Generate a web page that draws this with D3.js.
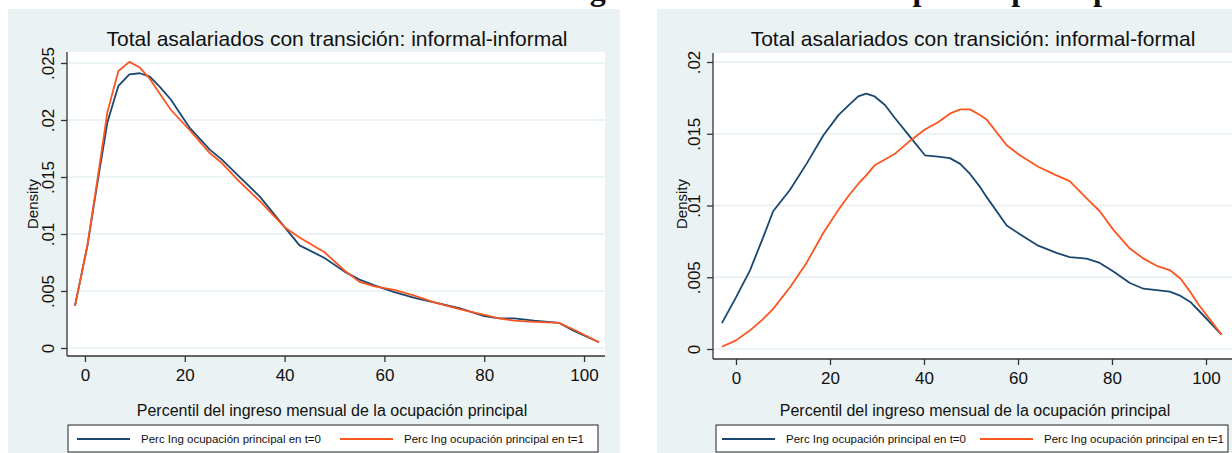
<!DOCTYPE html>
<html>
<head>
<meta charset="utf-8">
<script src="https://cdn.jsdelivr.net/npm/d3@7"></script>
<style>
  body { margin: 0; background: #fff; }
  text { font-family: "Liberation Sans", Arial, sans-serif; fill: #111; }
</style>
</head>
<body>
<svg id="chart"></svg>
<script>
// x ticks shared by both panels
var xTicks = [0, 20, 40, 60, 80, 100];

// panel 1: informal-informal
var leftTitle = "Total asalariados con transición: informal-informal";
var leftYTicks = [0, 0.005, 0.01, 0.015, 0.02, 0.025];
var leftX  = [-2, 0.5, 2.5, 4.5, 6.7, 8.9, 11, 13, 15, 17.2, 21, 25, 27.5, 30.5, 35, 40, 43, 48, 52, 55, 58, 62, 66, 70, 75, 80, 83, 86, 90, 95, 98, 103];
var leftT0 = [.0037, .0090, .0145, .0198, .0230, .0240, .0241, .0238, .0229, .0218, .0193, .0174, .0165, .0152, .0133, .0106, .0090, .0079, .0067, .0060, .0055, .0049, .0044, .0040, .0035, .0028, .0026, .0026, .0024, .0022, .0015, .0005];
var leftT1 = [.0037, .0090, .0148, .0207, .0243, .0251, .0246, .0236, .0223, .0209, .0191, .0171, .0162, .0148, .0129, .0106, .0097, .0084, .0068, .0058, .0054, .0051, .0046, .0040, .0034, .0029, .0026, .0024, .0023, .0022, .0016, .0005];

// panel 2: informal-formal
var rightTitle = "Total asalariados con transición: informal-formal";
var rightYTicks = [0, 0.005, 0.01, 0.015, 0.02];
var rightX  = [-3, 0, 3, 5.8, 7.9, 11.5, 15, 18.6, 21.8, 24, 26, 27.7, 29.5, 31.7, 33.8, 37, 40.2, 43, 45.5, 47.7, 49.8, 51.9, 53.3, 57.6, 60.4, 64.3, 68.2, 71, 74.6, 77.4, 80.3, 83.8, 86.7, 89.5, 92.3, 94.6, 96.6, 98.4, 103.3];
var rightT0 = [.0018, .0036, .0055, .0078, .0096, .0111, .0129, .0149, .0163, .0170, .0176, .0178, .0176, .0170, .0161, .0148, .0135, .0134, .0133, .0129, .0122, .0113, .0106, .0086, .0080, .0072, .0067, .0064, .0063, .0060, .0054, .0046, .0042, .0041, .0040, .0037, .0033, .0027, .0010];
var rightT1 = [.00016, .0006, .0013, .0021, .0028, .0043, .0060, .0081, .0097, .0107, .0115, .0121, .0128, .0132, .0136, .0145, .0153, .0158, .0164, .0167, .0167, .0163, .0160, .0142, .0135, .0127, .0121, .0117, .0105, .0096, .0083, .0070, .0063, .0058, .0055, .0049, .0040, .0031, .0010];

var seriesNames = ["Perc Ing ocupación principal en t=0", "Perc Ing ocupación principal en t=1"];
var colors = ["#1a476f", "#fb5520"];
var xLabel = "Percentil del ingreso mensual de la ocupación principal";

var svg = d3.select("#chart").attr("width", 1232).attr("height", 453);

// cut-off heading from the page above (only descenders show)
svg.append("text")
  .attr("x", 378).attr("y", -0.5)
  .style("font-family", "'Liberation Serif', 'Times New Roman', serif")
  .style("font-weight", "bold")
  .style("font-size", "32px")
  .text("Densidad del ingreso mensual de la ocupación principal");

function panel(cfg) {
  var g = svg.append("g");
  g.append("rect")
    .attr("x", cfg.bx).attr("y", 9)
    .attr("width", cfg.bw).attr("height", 460)
    .attr("fill", "#eaf2f3");

  var x = d3.scaleLinear().domain(cfg.xdom).range([cfg.left, cfg.right]);
  var y = d3.scaleLinear().domain([0, cfg.ytop]).range([cfg.y0, cfg.y1]);

  g.append("rect")
    .attr("x", cfg.left).attr("y", cfg.top)
    .attr("width", cfg.right - cfg.left).attr("height", cfg.bottom - cfg.top)
    .attr("fill", "#fff");

  // grid
  g.selectAll(".grid").data(cfg.yTicks).enter().append("line")
    .attr("x1", cfg.left).attr("x2", cfg.right)
    .attr("y1", function(d) { return y(d); }).attr("y2", function(d) { return y(d); })
    .attr("stroke", "#e6eff0").attr("stroke-width", 1.5);

  // curves
  var line = d3.line()
    .x(function(d) { return x(d[0]); })
    .y(function(d) { return y(d[1]); });
  [cfg.t0, cfg.t1].forEach(function(ys, i) {
    g.append("path")
      .datum(cfg.xs.map(function(v, j) { return [v, ys[j]]; }))
      .attr("d", line)
      .attr("fill", "none")
      .attr("stroke", colors[i])
      .attr("stroke-width", 1.8)
      .attr("stroke-linejoin", "round");
  });

  // axes
  var ax = g.append("g")
    .attr("transform", "translate(0," + cfg.bottom + ")")
    .call(d3.axisBottom(x).tickValues(xTicks).tickSize(6).tickPadding(7).tickSizeOuter(0));
  ax.select(".domain").attr("d", "M" + cfg.left + ",0H" + cfg.right);
  var ay = g.append("g")
    .attr("transform", "translate(" + cfg.left + ",0)")
    .call(d3.axisLeft(y).tickValues(cfg.yTicks).tickSize(6).tickSizeOuter(0)
      .tickFormat(function(d) { return d === 0 ? "0" : d3.format(".3~f")(d).replace(/^0/, ""); }));
  ay.select(".domain").attr("d", "M0," + cfg.top + "V" + cfg.bottom);
  [ax, ay].forEach(function(a) {
    a.selectAll(".domain, line").attr("stroke", "#333").attr("stroke-width", 1.3);
    a.selectAll("text").style("font-size", "17px").attr("fill", "#111");
  });
  ay.selectAll("text")
    .attr("x", null).attr("dy", null)
    .attr("text-anchor", "middle")
    .attr("transform", "translate(-13,0) rotate(-90)");

  g.append("text")
    .attr("x", cfg.titleX).attr("y", 46)
    .attr("text-anchor", "middle")
    .style("font-size", "21px")
    .text(cfg.title);

  g.append("text")
    .attr("transform", "translate(" + cfg.densX + ",204) rotate(-90)")
    .attr("text-anchor", "middle")
    .style("font-size", "15px")
    .text("Density");

  g.append("text")
    .attr("x", (cfg.left + Math.min(cfg.right, cfg.bx + cfg.bw - 12)) / 2 - 4).attr("y", 416)
    .attr("text-anchor", "middle")
    .style("font-size", "16px")
    .text(xLabel);

  // legend
  var lg = g.append("g");
  lg.append("rect")
    .attr("x", cfg.lx).attr("y", 425)
    .attr("width", cfg.lw).attr("height", 27)
    .attr("fill", "#fff").attr("stroke", "#222").attr("stroke-width", 1);
  var item = lg.selectAll(".item").data(seriesNames).enter().append("g")
    .attr("transform", function(d, i) { return "translate(" + (cfg.lx + cfg.lpad + i * cfg.lstep) + ",439)"; });
  item.append("line")
    .attr("x1", 0).attr("x2", 53)
    .attr("stroke", function(d, i) { return colors[i]; })
    .attr("stroke-width", 1.8);
  item.append("text")
    .attr("x", 64).attr("dy", "0.35em")
    .style("font-size", "11.5px")
    .text(function(d) { return d; });
}

panel({
  bx: 8, bw: 612, left: 67, right: 605, top: 52, bottom: 356,
  xdom: [-3.6, 104.2], ytop: 0.025, y0: 348, y1: 63,
  yTicks: leftYTicks, xs: leftX, t0: leftT0, t1: leftT1,
  title: leftTitle, titleX: 337, densX: 38, lx: 68, lw: 530, lpad: 9, lstep: 263
});

panel({
  bx: 657, bw: 620, left: 713, right: 1245, top: 53, bottom: 359,
  xdom: [(713 - 736) / 4.7, (1245 - 736) / 4.7], ytop: 0.02, y0: 349, y1: 62,
  yTicks: rightYTicks, xs: rightX, t0: rightT0, t1: rightT1,
  title: rightTitle, titleX: 973, densX: 687, lx: 716, lw: 512, lpad: 6, lstep: 258
});
</script>
</body>
</html>
